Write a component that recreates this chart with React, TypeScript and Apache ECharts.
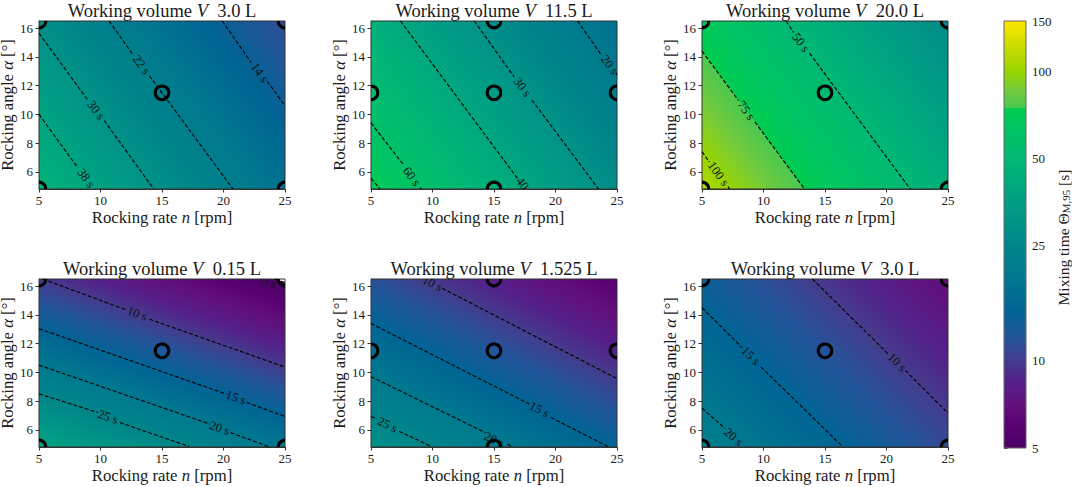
import React, { useEffect, useRef } from "react";
import * as echarts from "echarts";

const FONT = '"Liberation Serif"';
const INK = "#1a1a1a";

// mixing time [s] -> colour (it jumps at 75 s)
const barValues = [5, 6, 7, 8.5, 10, 12, 15, 20, 25, 35, 50, 65, 74.9, 75, 86, 100, 120, 150];
const barColors = [
  "#4a0064", "#590272", "#62107c", "#54208a", "#443c8c", "#23549a", "#006594", "#007a8e", "#00858a",
  "#009e84", "#00b874", "#00c660", "#00cc50", "#4ac850", "#72ca3e", "#98d400", "#c4dc00", "#ffe600",
];
const barTicks = [5, 10, 25, 50, 100, 150];

const xTicksInterval = 5;
const yTicks = [6, 8, 10, 12, 14, 16];

const volumes = ["3.0", "11.5", "20.0", "0.15", "1.525", "3.0"];

// measurement points [n, alpha]
const pointsCorners = [[5, 16.5], [25, 16.5], [15, 11.5], [5, 4.8], [25, 4.8]];
const pointsCross = [[15, 16.5], [5, 11.5], [15, 11.5], [25, 11.5], [15, 4.8]];
const points = [pointsCorners, pointsCross, pointsCorners, pointsCorners, pointsCross, pointsCorners];

type Contour = { level: number; label: string; at: number[]; parts: number[][][] };

const contours3L: Contour[] = [
  { level: 14, label: "14 s", at: [22.94, 12.9], parts: [[[19.9, 16.5], [22.26, 13.6]], [[23.56, 12.3], [25, 10.6]]] },
  { level: 22, label: "22 s", at: [13.33, 13.45], parts: [[[10.7, 16.5], [12.65, 14.14]], [[13.98, 12.68], [20.77, 4.8]]] },
  { level: 30, label: "30 s", at: [9.64, 10.3], parts: [[[5, 15.65], [8.96, 11]], [[10.3, 9.57], [14.33, 4.8]]] },
  { level: 38, label: "38 s", at: [8.83, 5.56], parts: [[[5, 10], [8.17, 6.26]]] },
];
const contours11L: Contour[] = [
  { level: 20, label: "20 s", at: [24.4, 13.45], parts: [[[21.8, 16.5], [23.75, 14.1]], [[24.9, 12.9], [25, 12.75]]] },
  { level: 30, label: "30 s", at: [17.3, 11.9], parts: [[[13.4, 16.5], [16.64, 12.6]], [[18.08, 11], [23.5, 4.8]]] },
  { level: 40, label: "40 s", at: [17.5, 4.95], parts: [[[7.4, 16.5], [16.9, 5.55]]] },
  { level: 60, label: "60 s", at: [8.3, 5.67], parts: [[[5, 9.4], [7.63, 6.5]], [[9, 4.9], [9.1, 4.8]]] },
  { level: 70, label: "", at: [5.4, 5.2], parts: [[[5, 5.55], [5.73, 4.8]]] },
];
const contours20L: Contour[] = [
  { level: 50, label: "50 s", at: [13.03, 15], parts: [[[11.84, 16.5], [12.44, 15.7]], [[13.74, 14.26], [21.93, 4.8]]] },
  { level: 75, label: "75 s", at: [8.58, 10.27], parts: [[[5, 14.4], [7.96, 10.97]], [[9.29, 9.48], [13.33, 4.8]]] },
  { level: 100, label: "100 s", at: [6.33, 5.86], parts: [[[5, 7.4], [5.6, 6.67]], [[7.14, 4.98], [7.22, 4.8]]] },
];
const contours015L: Contour[] = [
  { level: 5, label: "5 s", at: [23.7, 16.3], parts: [[[24.2, 16.5], [25, 16.25]]] },
  { level: 10, label: "10 s", at: [12.98, 14.08], parts: [[[5.3, 16.5], [12.16, 14.33]], [[13.98, 13.7], [25, 10.37]]] },
  { level: 15, label: "15 s", at: [21, 8.25], parts: [[[5, 13.04], [20.25, 8.48]], [[21.88, 7.9], [25, 6.93]]] },
  { level: 20, label: "20 s", at: [19.68, 6.12], parts: [[[5, 10.5], [18.9, 6.4]], [[20.58, 5.8], [23.64, 4.84]]] },
  { level: 25, label: "25 s", at: [10.6, 6.9], parts: [[[5, 8.5], [9.8, 7.2]], [[11.57, 6.5], [17.2, 4.84]]] },
];
const contours1525L: Contour[] = [
  { level: 10, label: "10 s", at: [10, 16.2], parts: [[[10.8, 15.85], [25, 9.56]]] },
  { level: 15, label: "15 s", at: [18.68, 7.4], parts: [[[5, 13.4], [17.86, 7.8]], [[19.63, 6.86], [24.24, 4.84]]] },
  { level: 20, label: "20 s", at: [15, 5.3], parts: [[[5, 9.7], [14.3, 5.8]], [[16.1, 5], [16.4, 4.84]]] },
  { level: 25, label: "25 s", at: [6.33, 6.35], parts: [[[5, 6.92], [5.5, 6.74]], [[7.28, 5.9], [9.9, 4.84]]] },
];
const contours3Lb: Contour[] = [
  { level: 10, label: "10 s", at: [20.85, 10.7], parts: [[[13.98, 16.5], [20.17, 11.25]], [[21.53, 10.14], [25, 7.16]]] },
  { level: 15, label: "15 s", at: [8.96, 11.14], parts: [[[5, 14.5], [8.26, 11.72]], [[9.8, 10.37], [16.42, 4.84]]] },
  { level: 20, label: "20 s", at: [7.55, 5.5], parts: [[[5, 7.5], [6.87, 6.1]]] },
];
const contours = [contours3L, contours11L, contours20L, contours015L, contours1525L, contours3Lb];

// plot rectangles in the page
const lefts = [39, 371, 702];
const tops = [21, 279];
const plotW = 246;
const plotH = 168;

const nameRich = (fontSize: number) => ({
  a: { fontFamily: FONT, fontSize, color: INK },
  i: { fontFamily: FONT, fontSize, color: INK, fontStyle: "italic" },
});

const barMin = 4;
const barMax = 150;
const offsetOf = (v: number) => Math.log(v / barMin) / Math.log(barMax / barMin);

// below 5 s the plot is left white, as matplotlib does out of range
const panelStops = [
  { offset: 0, color: "#ffffff" },
  { offset: offsetOf(5), color: "#ffffff" },
  ...barValues.map((v, i) => ({ offset: offsetOf(v), color: barColors[i] })),
];

const contourLength = (c: Contour) => {
  const a = c.parts[0][0];
  const last = c.parts[c.parts.length - 1];
  const b = last[last.length - 1];
  return Math.hypot(b[0] - a[0], b[1] - a[1]);
};

const panelSeries = (index: number) => {
  const list = contours[index];
  const renderHeat = (params: any, api: any) => {
    const [x0, y0] = api.coord([5, 16.5]);
    const [x1, y1] = api.coord([25, 4.8]);
    // the contours are parallel, so the field is one gradient across them
    const longest = list.reduce((best, c) => (contourLength(c) > contourLength(best) ? c : best), list[0]);
    const lastPart = longest.parts[longest.parts.length - 1];
    const p = api.coord(longest.parts[0][0]);
    const q = api.coord(lastPart[lastPart.length - 1]);
    const len = Math.hypot(q[0] - p[0], q[1] - p[1]);
    const nx = -(q[1] - p[1]) / len;
    const ny = (q[0] - p[0]) / len;
    const a = api.coord(list[0].parts[0][0]);
    const b = api.coord(list[list.length - 1].parts[0][0]);
    const dist = (b[0] - a[0]) * nx + (b[1] - a[1]) * ny;
    const k = dist / Math.log(list[list.length - 1].level / list[0].level);
    const at = (v: number) => k * Math.log(v / list[0].level);
    const gradient = new echarts.graphic.LinearGradient(
      a[0] + nx * at(barMin),
      a[1] + ny * at(barMin),
      a[0] + nx * at(barMax),
      a[1] + ny * at(barMax),
      panelStops,
      true as any,
    );
    return {
      type: "rect",
      shape: { x: x0, y: y0, width: x1 - x0, height: y1 - y0 },
      style: { fill: gradient, stroke: "#333333", lineWidth: 1 },
    };
  };
  const renderLabel = (params: any, api: any) => {
    const c = list[params.dataIndex];
    const lastPart = c.parts[c.parts.length - 1];
    const p = api.coord(c.parts[0][0]);
    const q = api.coord(lastPart[lastPart.length - 1]);
    const pos = api.coord(c.at);
    return {
      type: "text",
      x: pos[0],
      y: pos[1],
      rotation: -Math.atan2(q[1] - p[1], q[0] - p[0]),
      style: {
        text: c.label,
        font: `12.5px ${FONT}`,
        fill: "#111111",
        align: "center",
        verticalAlign: "middle",
      },
    };
  };
  const renderPoint = (params: any, api: any) => {
    const [cx, cy] = api.coord([api.value(0), api.value(1)]);
    return {
      type: "circle",
      shape: { cx, cy, r: 6.8 },
      style: { fill: "none", stroke: "#000000", lineWidth: 3 },
    };
  };
  const lineData: any[] = [];
  list.forEach((c) =>
    c.parts.forEach((part) => {
      part.forEach((pt) => lineData.push(pt));
      lineData.push(["-", "-"]);
    }),
  );
  return [
    {
      type: "custom",
      xAxisIndex: index,
      yAxisIndex: index,
      clip: false,
      silent: true,
      z: 1,
      data: [[15, 11]],
      renderItem: renderHeat,
    },
    {
      type: "line",
      xAxisIndex: index,
      yAxisIndex: index,
      z: 2,
      showSymbol: false,
      symbol: "none",
      connectNulls: false,
      data: lineData,
      lineStyle: { color: "#000000", width: 1.1, type: [4, 2] },
    },
    {
      type: "custom",
      xAxisIndex: index,
      yAxisIndex: index,
      clip: true,
      silent: true,
      z: 3,
      data: list.map((c) => c.at),
      renderItem: renderLabel,
    },
    {
      type: "custom",
      xAxisIndex: index,
      yAxisIndex: index,
      clip: true,
      silent: true,
      z: 4,
      data: points[index],
      renderItem: renderPoint,
    },
  ];
};

const App: React.FC = () => {
  const chartRef = useRef<HTMLDivElement>(null);

  useEffect(() => {
    if (!chartRef.current) return;
    const chart = echarts.init(chartRef.current, undefined, { renderer: "svg" });

    const grids: any[] = [];
    const xAxes: any[] = [];
    const yAxes: any[] = [];
    const titles: any[] = [];
    const series: any[] = [];
    volumes.forEach((v, i) => {
      const left = lefts[i % 3];
      const top = tops[Math.floor(i / 3)];
      grids.push({ left, top, width: plotW, height: plotH, outerBoundsMode: "none" });
      titles.push({
        text: `{a|Working volume }{i|V}{a|  ${v} L}`,
        left: left + plotW / 2,
        top: top - 20,
        textAlign: "center",
        padding: 0,
        textStyle: {
          fontWeight: "normal",
          rich: {
            a: { fontFamily: FONT, fontSize: 18.5, color: INK, fontWeight: "normal" },
            i: { fontFamily: FONT, fontSize: 18.5, color: INK, fontStyle: "italic", fontWeight: "normal" },
          },
        },
      });
      xAxes.push({
        type: "value",
        gridIndex: i,
        min: 5,
        max: 25,
        interval: xTicksInterval,
        splitLine: { show: false },
        axisLine: { onZero: false, lineStyle: { color: "#333333" } },
        axisTick: { show: true, length: 3.5, lineStyle: { color: "#333333" } },
        axisLabel: { fontFamily: FONT, fontSize: 13, color: INK, margin: 5 },
        name: "{a|Rocking rate }{i|n}{a| [rpm]}",
        nameLocation: "middle",
        nameGap: 20,
        nameTextStyle: { rich: nameRich(16.7) },
      });
      yAxes.push({
        type: "value",
        gridIndex: i,
        min: 4.8,
        max: 16.5,
        splitLine: { show: false },
        axisLine: { onZero: false, lineStyle: { color: "#333333" } },
        axisTick: { show: true, length: 3.5, customValues: yTicks, lineStyle: { color: "#333333" } },
        axisLabel: { fontFamily: FONT, fontSize: 13, color: INK, margin: 6, customValues: yTicks },
        name: "{a|Rocking angle }{i|α}{a| [°]}",
        nameLocation: "middle",
        nameRotate: 90,
        nameGap: 22.5,
        nameTextStyle: { rich: nameRich(16.7) },
      });
      series.push(...panelSeries(i));
    });

    // colour bar on a log axis
    grids.push({ left: 1004, top: 21, width: 22, height: 427, outerBoundsMode: "none" });
    xAxes.push({ type: "value", gridIndex: 6, min: 0, max: 1, show: false });
    yAxes.push({
      type: "log",
      gridIndex: 6,
      min: 5,
      max: 150,
      position: "right",
      splitLine: { show: false },
      axisLine: { lineStyle: { color: "#666666" } },
      axisTick: { show: true, length: 3.5, customValues: barTicks, lineStyle: { color: "#444444" } },
      axisLabel: { fontFamily: FONT, fontSize: 13, color: INK, margin: 6, customValues: barTicks },
      name: "{a|Mixing time }{a|Θ}{s|M,95}{a| [s]}",
      nameLocation: "middle",
      nameRotate: 90,
      nameGap: 26,
      nameTextStyle: {
        padding: [0, 6, 0, 0],
        rich: {
          a: { fontFamily: FONT, fontSize: 15.5, color: INK },
          s: { fontFamily: FONT, fontSize: 11, color: INK, verticalAlign: "bottom" },
        },
      },
    });
    const barStops = barValues.map((v, i) => ({
      offset: Math.log(v / 5) / Math.log(150 / 5),
      color: barColors[i],
    }));
    series.push({
      type: "custom",
      xAxisIndex: 6,
      yAxisIndex: 6,
      clip: false,
      silent: true,
      data: [[0.5, 25]],
      renderItem: (params: any, api: any) => {
        const [x0, y0] = api.coord([0, 150]);
        const [x1, y1] = api.coord([1, 5]);
        return {
          type: "rect",
          shape: { x: x0, y: y0, width: x1 - x0, height: y1 - y0 },
          style: {
            fill: new echarts.graphic.LinearGradient(0, 1, 0, 0, barStops),
            stroke: "#666666",
            lineWidth: 1,
          },
        };
      },
    });

    chart.setOption({
      animation: false,
      title: titles,
      grid: grids,
      xAxis: xAxes,
      yAxis: yAxes,
      series,
    });

    return () => {
      chart.dispose();
    };
  }, []);

  return (
    <div
      ref={chartRef}
      style={{ position: "absolute", left: 0, top: 0, width: 1072, height: 487, background: "#ffffff" }}
    />
  );
};

export default App;
